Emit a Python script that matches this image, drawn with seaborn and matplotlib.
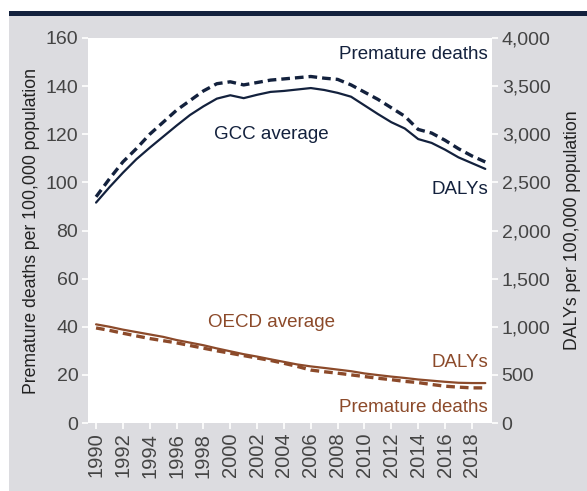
import matplotlib
matplotlib.use("Agg")
import matplotlib.pyplot as plt
from matplotlib.patches import Rectangle
from matplotlib.ticker import FuncFormatter
import numpy as np
import pandas as pd
import seaborn as sns

# ---- data -------------------------------------------------------------
years = list(range(1990, 2020))

# Premature deaths per 100,000 population (left axis)
gcc_deaths = [94, 101.5, 108.5, 114, 120, 125, 130, 134, 138, 141,
              141.8, 140.5, 141.5, 142.5, 143, 143.5, 144, 143.3, 142.8, 140.5,
              137.5, 134.5, 131, 127.5, 122, 120.5, 117.5, 114, 111, 108.5]
oecd_deaths = [39.5, 38.5, 37.3, 36.2, 35.1, 34.2, 33.3, 32.2, 31.1, 30,
               29, 28, 27, 26, 24.8, 23.5, 22, 21.3, 20.7, 20,
               19.3, 18.6, 18, 17.3, 16.8, 16, 15.3, 14.9, 14.6, 14.6]

# DALYs per 100,000 population (right axis)
gcc_dalys = [2290, 2450, 2600, 2740, 2860, 2975, 3090, 3200, 3290, 3370,
             3405, 3375, 3410, 3440, 3450, 3465, 3480, 3460, 3430, 3390,
             3300, 3210, 3125, 3060, 2950, 2910, 2840, 2760, 2700, 2640]
oecd_dalys = [1025, 1000, 970, 945, 920, 895, 862, 835, 808, 775,
              745, 715, 690, 662, 635, 608, 588, 572, 555, 538,
              515, 498, 482, 468, 452, 440, 428, 418, 415, 415]

left_ticks = [0, 20, 40, 60, 80, 100, 120, 140, 160]
right_ticks = [0, 500, 1000, 1500, 2000, 2500, 3000, 3500, 4000]
year_ticks = list(range(1990, 2019, 2))

# ---- style ------------------------------------------------------------
sns.set_theme(style="white")
FONT = ["Liberation Sans", "DejaVu Sans"]
plt.rcParams["font.family"] = FONT

NAVY = "#13213d"
BROWN = "#8c4a2a"
PANEL = "#dcdce0"
TICKTXT = "#444444"

deaths_df = pd.DataFrame({
    "year": years * 2,
    "value": gcc_deaths + oecd_deaths,
    "group": ["GCC"] * len(years) + ["OECD"] * len(years),
})
dalys_df = pd.DataFrame({
    "year": years * 2,
    "value": gcc_dalys + oecd_dalys,
    "group": ["GCC"] * len(years) + ["OECD"] * len(years),
})
palette = {"GCC": NAVY, "OECD": BROWN}

fig = plt.figure(figsize=(5.87, 4.91), dpi=100)
fig.patch.set_facecolor("white")
# grey panel and dark rule across the top
fig.patches.append(Rectangle((9 / 587, 0), 1, 1 - 16 / 491,
                             transform=fig.transFigure, facecolor=PANEL,
                             edgecolor="none", zorder=-10))
fig.patches.append(Rectangle((9 / 587, 1 - 16 / 491), 1, 5 / 491,
                             transform=fig.transFigure, facecolor=NAVY,
                             edgecolor="none", zorder=-10))

ax = fig.add_axes([88 / 587, 1 - 423 / 491, 404 / 587, 385 / 491])
ax.set_facecolor("white")
ax2 = ax.twinx()

sns.lineplot(data=deaths_df, x="year", y="value", hue="group", palette=palette,
             ax=ax, legend=False, linewidth=2.4, dashes=False)
for line in ax.get_lines():
    line.set_dashes((2.6, 1.5))
    line.set_dash_capstyle("butt")

sns.lineplot(data=dalys_df, x="year", y="value", hue="group", palette=palette,
             ax=ax2, legend=False, linewidth=1.6)

ax.set_xlim(1989.4, 2019.5)
ax.set_ylim(0, 160)
ax2.set_ylim(0, 4000)

ax.set_xticks(year_ticks)
ax.set_xticklabels([str(y) for y in year_ticks], rotation=90)
ax.set_yticks(left_ticks)
ax2.set_yticks(right_ticks)
ax2.yaxis.set_major_formatter(FuncFormatter(lambda v, p: f"{int(v):,}"))

for a in (ax, ax2):
    for s in a.spines.values():
        s.set_visible(False)
    a.tick_params(axis="both", which="both", length=4, width=1.2,
                  color="white", labelcolor=TICKTXT, labelsize=14, pad=3)
    a.grid(False)
ax.tick_params(axis="x", bottom=True, pad=3, labelsize=14.5)

ax.set_xlabel("")
ax.set_ylabel("Premature deaths per 100,000 population", fontsize=12.7,
              color="#222222", labelpad=4)
ax2.set_ylabel("DALYs per 100,000 population", fontsize=12.7,
               color="#222222", labelpad=10)

# in-plot labels
lab = dict(fontsize=13.5, family=FONT)
ax.text(2019.2, 153, "Premature deaths", color=NAVY, ha="right", va="center", **lab)
ax.text(2003.05, 120, "GCC average", color=NAVY, ha="center", va="center", **lab)
ax.text(2019.2, 97, "DALYs", color=NAVY, ha="right", va="center", **lab)
ax.text(2003.1, 41.8, "OECD average", color=BROWN, ha="center", va="center", **lab)
ax.text(2019.2, 25, "DALYs", color=BROWN, ha="right", va="center", **lab)
ax.text(2019.2, 6.4, "Premature deaths", color=BROWN, ha="right", va="center", **lab)

fig.savefig("out.png", dpi=100)
